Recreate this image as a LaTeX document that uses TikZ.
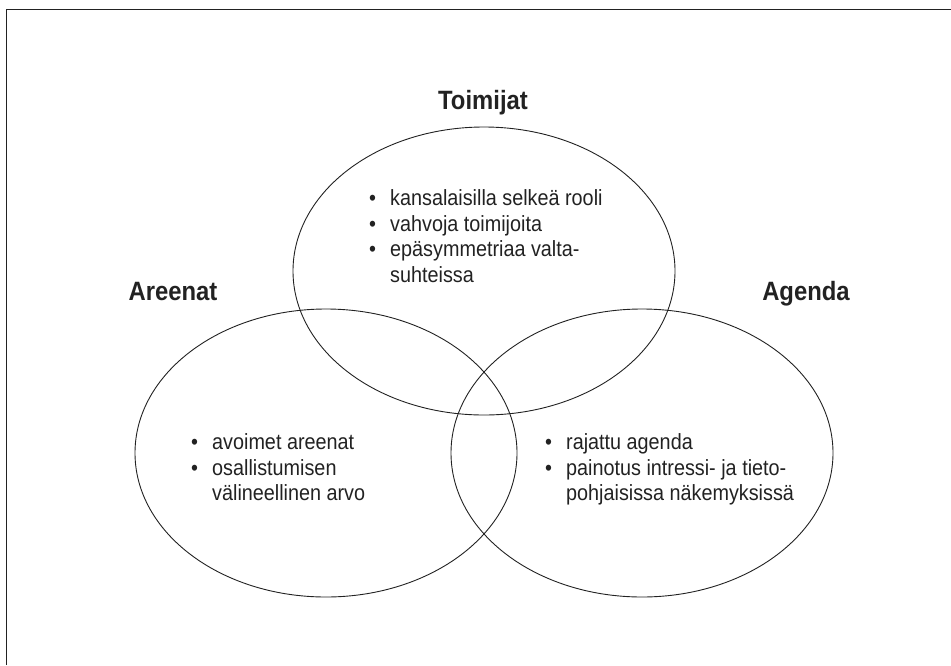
\documentclass[tikz,border=0pt]{standalone}
\usepackage{fontspec}
\setmainfont{Liberation Sans}[FakeStretch=0.9]
\usetikzlibrary{shapes.geometric}
\definecolor{ink}{HTML}{222222}
\newcommand{\bul}{\makebox[21pt][l]{\textbullet}}
\begin{document}
\begin{tikzpicture}[x=1pt,y=-1pt,
  circ/.style={draw=ink, line width=0.9pt, ellipse, minimum width=382pt, minimum height=288pt, inner sep=0pt},
  heading/.style={font=\fontsize{26.5}{30}\selectfont\bfseries, text=ink, anchor=base, inner sep=0pt},
  itemlist/.style={font=\fontsize{22}{25.8}\selectfont, text=ink, anchor=north west, inner sep=0pt, align=left},
  frameline/.style={draw=ink, line width=1.2pt}]
\useasboundingbox (0,0) rectangle (951,665);
% open frame: left and top edges
\draw[frameline] (6.5,665) -- (6.5,9.5) -- (951,9.5);

% the three overlapping sets
\node[circ] (actors) at (484,271) {};
\node[circ] (arenas) at (326,453) {};
\node[circ] (agenda) at (642,453) {};

% set titles
\node[heading] (actorsT) at (483,109) {Toimijat};
\node[heading] (arenasT) at (173,300) {Areenat};
\node[heading] (agendaT) at (806,300) {Agenda};

% contents of each set
\node[itemlist] (actorsL) at (369,187) {\begin{tabular}{@{}l@{}l@{}}
\bul & kansalaisilla selkeä rooli\\
\bul & vahvoja toimijoita\\
\bul & epäsymmetriaa valta-\\
 & suhteissa
\end{tabular}};
\node[itemlist] (arenasL) at (191,431) {\begin{tabular}{@{}l@{}l@{}}
\bul & avoimet areenat\\
\bul & osallistumisen\\
 & välineellinen arvo
\end{tabular}};
\node[itemlist] (agendaL) at (545,431) {\begin{tabular}{@{}l@{}l@{}}
\bul & rajattu agenda\\
\bul & painotus intressi- ja tieto-\\
 & pohjaisissa näkemyksissä
\end{tabular}};
\end{tikzpicture}
\end{document}
